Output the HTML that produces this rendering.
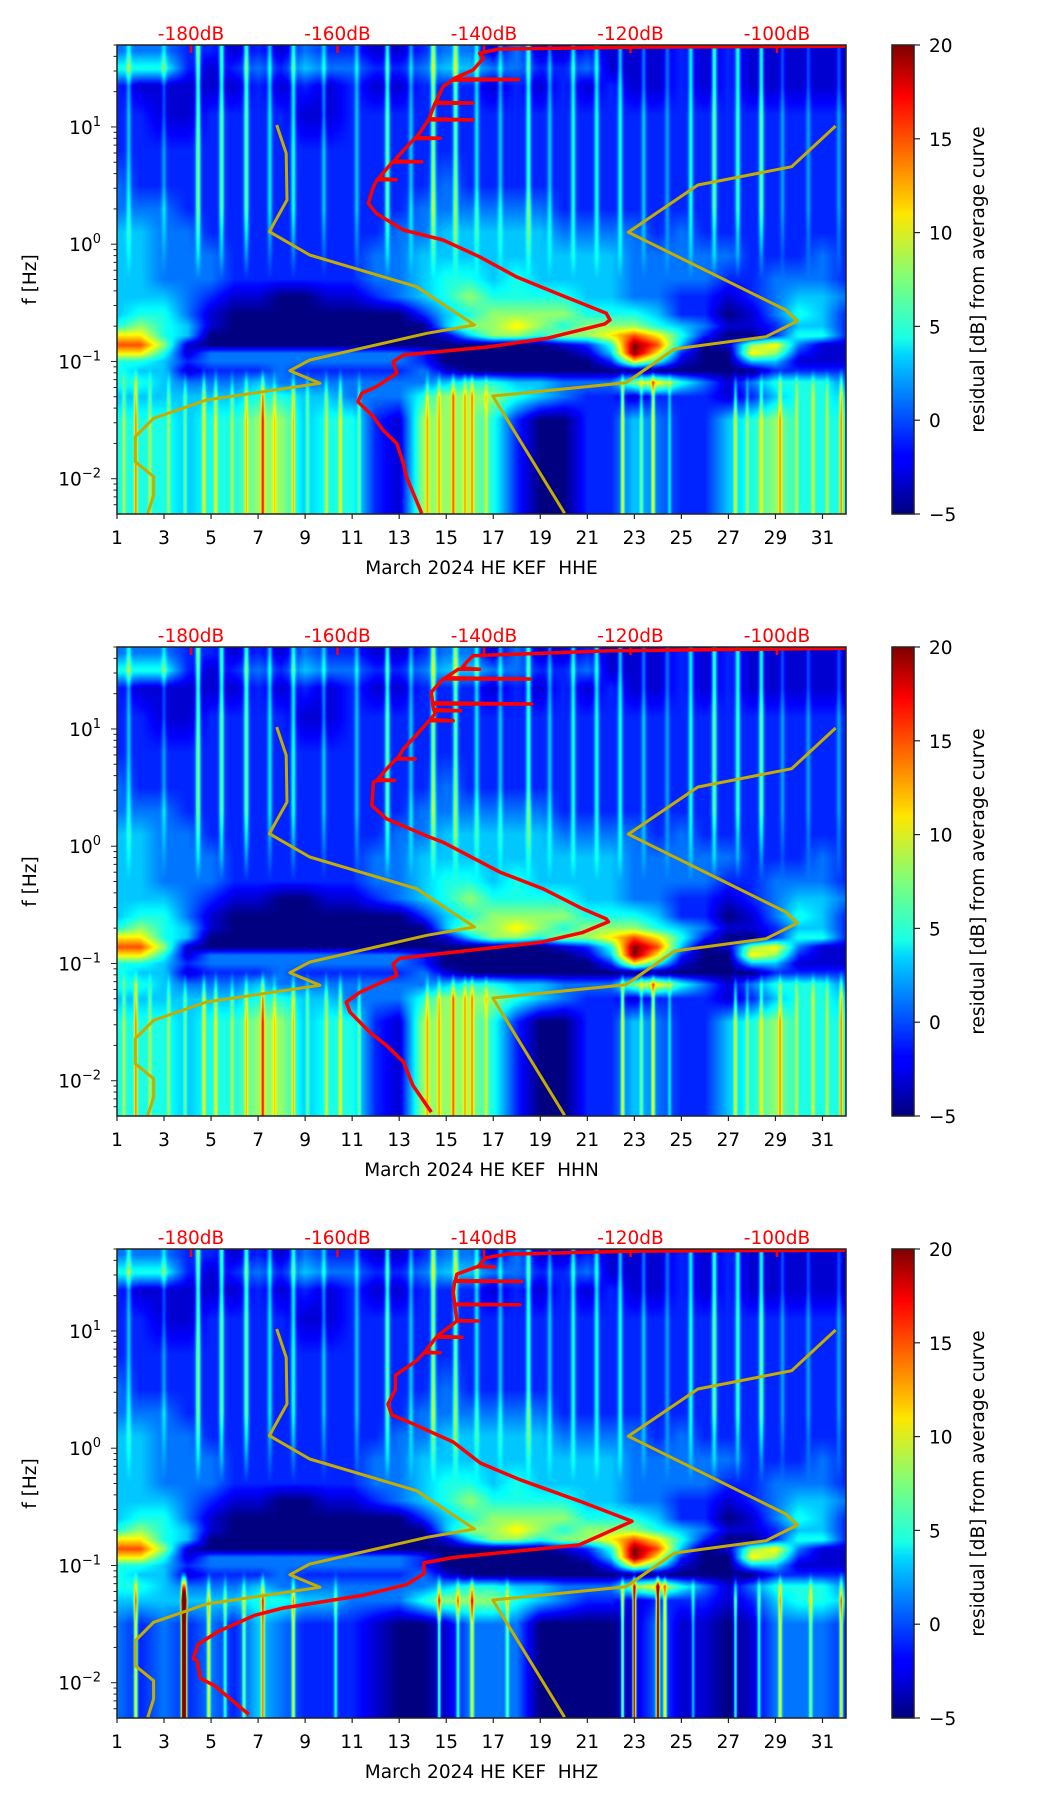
<!DOCTYPE html>
<html><head><meta charset="utf-8">
<style>
html,body{margin:0;padding:0;background:#fff;}
#root{position:relative;width:1052px;height:1806px;overflow:hidden;font-family:"DejaVu Sans","Liberation Sans",sans-serif;}
canvas{position:absolute;}
svg{position:absolute;left:0;top:0;}
</style></head>
<body>
<div id="root">
<canvas id="hm0" width="729" height="469" style="left:117px;top:45px"></canvas>
<canvas id="hm1" width="729" height="469" style="left:117px;top:647px"></canvas>
<canvas id="hm2" width="729" height="469" style="left:117px;top:1249px"></canvas>
<svg id="svg" width="1052" height="1806" xmlns="http://www.w3.org/2000/svg">
<defs>
<linearGradient id="jet" x1="0" y1="1" x2="0" y2="0">
<stop offset="0" stop-color="#00007f"/><stop offset="0.11" stop-color="#0000ff"/><stop offset="0.125" stop-color="#0000ff"/>
<stop offset="0.34" stop-color="#00d4ff"/><stop offset="0.375" stop-color="#19ffe6"/><stop offset="0.5" stop-color="#7dff7a"/>
<stop offset="0.64" stop-color="#ffe600"/><stop offset="0.66" stop-color="#ffd000"/><stop offset="0.89" stop-color="#ff0000"/><stop offset="1" stop-color="#7f0000"/>
</linearGradient>
</defs>
</svg>
</div>
<script>
// ---------- data ----------
const days = [1,2,3,4,5,6,7,8,9,10,11,12,13,14,15,16,17,18,19,20,21,22,23,24,25,26,27,28,29,30,31,32];
const digitValues = [-5,-3,-1,1,3,5,8,11,15,20];
const rowsLogF = [1.65,1.5,1.35,1.1,0.8,0.5,0.3,0.1,-0.1,-0.3,-0.45,-0.6,-0.7,-0.78,-0.86,-0.93,-1.0,-1.08,-1.18,-1.3,-1.5,-1.9,-2.3];
const rowsMid = [
"33322121322112331311211121211111",
"55521232433223443322311121211111",
"21111121212112221212121121211111",
"22112222112222222222222222222222",
"22222222222222222222222222222222",
"32222222222222322222222222222222",
"33322222222223333332222222222222",
"44332222222233444443333232222222",
"44333222222334444444443333322232",
"44333222222334554544443333223332",
"44432110011234565555443322123443",
"45531000000002456666555422013542",
"56541000000000466765666543112442",
"77540000000000146656678752002552",
"88610000000000000001259840167311",
"77513333333332000000149720076211",
"55423333333332000000027510044111",
"54412223222223100000000000002222",
"55433343333333455443336753135553",
"44444455443335666543221222124554"];
const loBase = [
"55545566455216665200224322456555",
"55545566455216665200224322456555",
"32323243222100133300001311013332"];
const hiDays = [1.5,3.0,4.45,5.45,6.5,7.5,8.5,9.8,11.2,12.5,13.5,14.45,15.4,16.3,17.3,18.5,19.4,20.4,21.4,22.4,23.4,24.4,25.4,26.4,27.4,28.4,29.3,30.4,31.7];
const hiVals = [4,3,9,8,8,5,6,4,4,8,4,9,8,5,4,7,4,6,6,6,4,3,6,8,7,8,3,3,3];
const loDays = [1.3,1.8,2.4,3.2,3.9,4.7,5.2,5.9,6.5,7.2,7.7,8.5,9.1,9.9,10.5,11.3,14.2,14.7,15.3,15.8,16.1,16.7,22.5,23.3,23.8,24.5,27.3,27.8,28.4,29.2,29.9,30.6,31.2,31.8];
const loVals = [4,9,4,4,4,7,6,4,6,9,4,7,4,5,6,4,5,5,7,5,6,4,10,5,10,4,7,4,5,6,4,5,4,9];
const loDays3 = [1.8,3.8,3.9,4.9,5.6,6.4,7.2,8.5,10.3,14.7,15.5,16.1,17.6,22.5,23.0,24.0,24.3,25.5,27.3,28.3,29.2,30.5,31.8];
const loVals3 = [12,22,22,10,6,7,12,10,6,10,7,10,6,12,22,22,12,6,10,7,10,7,12];

// red curves (log10 f, dB)
const red1LogF = [-2.295,-1.983,-1.87,-1.70,-1.585,-1.47,-1.343,-1.272,-1.215,-1.101,-1.002,-0.945,-0.874,-0.803,-0.68,-0.646,-0.589,-0.419,-0.277,-0.107,0.036,0.121,0.263,0.349,0.49,0.55,0.55,0.56,0.605,0.70,0.704,0.71,0.80,0.90,0.904,0.91,0.946,1.06,1.06,1.07,1.17,1.20,1.204,1.21,1.343,1.40,1.405,1.41,1.486,1.585,1.628,1.665,1.68,1.69];
const red1Db = [-148.5,-150.6,-151.0,-151.9,-153.8,-155.1,-157.2,-156.7,-154.7,-151.9,-152.4,-151.0,-139.2,-131.5,-123.5,-122.8,-123.3,-130.1,-135.6,-140.6,-145.6,-151.0,-154.7,-155.8,-155.1,-154.6,-152.0,-154.4,-153.8,-152.5,-148.5,-152.3,-151.0,-149.5,-146.0,-149.3,-148.8,-147.6,-141.5,-147.5,-146.9,-146.7,-141.5,-146.6,-145.6,-144.3,-135.3,-144.2,-141.5,-140.1,-140.6,-138,-120,-89];
const red2LogF = [-2.268,-2.04,-1.84,-1.70,-1.586,-1.415,-1.33,-1.244,-1.103,-1.003,-0.955,-0.82,-0.735,-0.645,-0.62,-0.535,-0.364,-0.222,0.034,0.09,0.233,0.346,0.547,0.56,0.56,0.57,0.659,0.744,0.744,0.75,0.829,0.957,1.07,1.07,1.08,1.128,1.156,1.156,1.166,1.213,1.213,1.223,1.313,1.426,1.426,1.436,1.51,1.51,1.52,1.568,1.625,1.667,1.69];
const red2Db = [-147.2,-149.7,-151.0,-153.3,-155.6,-158.3,-158.8,-156.9,-151.9,-152.4,-151.5,-132.4,-126.5,-123.0,-123.3,-126.5,-131.9,-137.8,-145.6,-147.9,-153.3,-155.3,-155.1,-154.6,-152.2,-154.5,-153.3,-152.0,-149.4,-151.8,-151.0,-149.1,-147.5,-144.2,-147.3,-146.7,-146.8,-143.2,-146.9,-147.0,-133.5,-147.0,-147.2,-145.6,-133.7,-145.3,-143.5,-140.6,-143.0,-142.4,-141.5,-122.8,-89];
const red3LogF = [-2.271,-2.025,-1.963,-1.810,-1.794,-1.671,-1.563,-1.425,-1.363,-1.255,-1.163,-1.07,-0.978,-0.932,-0.825,-0.623,-0.453,-0.269,-0.126,0.053,0.222,0.284,0.377,0.50,0.623,0.746,0.814,0.814,0.82,0.931,0.946,0.946,0.955,1.085,1.085,1.09,1.223,1.223,1.23,1.33,1.423,1.423,1.43,1.485,1.546,1.546,1.55,1.623,1.655,1.68,1.69];
const red3Db = [-172.1,-176.8,-178.7,-179.2,-179.7,-179.0,-176.3,-171.3,-167.4,-156.6,-150.6,-148.2,-148.2,-144.2,-127.0,-119.8,-126.9,-135.1,-140.5,-144.2,-150.2,-152.6,-153.1,-152.1,-152.1,-149.2,-148.2,-146.0,-148.1,-146.7,-146.5,-143.0,-146.4,-143.7,-140.8,-143.7,-144.0,-135.1,-144.0,-144.2,-144.0,-134.9,-143.9,-143.7,-141.0,-138.6,-140.8,-139.8,-136.9,-120,-89];
// noise models (log10 f, dB)
const nlnmLogF = [1.017,0.775,0.377,0.107,-0.092,-0.362,-0.689,-0.760,-0.988,-1.079,-1.186,-1.329,-1.485,-1.642,-1.855,-1.983,-2.139,-2.295];
const nlnmDb = [-168.3,-167.0,-166.9,-169.3,-163.8,-149.2,-141.3,-147.8,-163.8,-166.5,-162.4,-177.9,-185.1,-187.6,-187.6,-185.1,-185.1,-185.9];
const nhnmLogF = [1.008,0.661,0.505,0.102,-0.561,-0.655,-0.789,-0.894,-1.181,-1.295,-2.295];
const nhnmDb = [-92.0,-98.0,-110.8,-120.3,-98.8,-97.2,-101.5,-114.0,-120.6,-138.8,-129.0];
const dbTicks = [-180,-160,-140,-120,-100];
const dayTicks = [1,3,5,7,9,11,13,15,17,19,21,23,25,27,29,31];
const cbTicks = [-5,0,5,10,15,20];
const yDecades = [1,0,-1,-2];
const stations = ["HHE","HHN","HHZ"];

// ---------- geometry ----------
const PX = 117, PW = 729, PH = 469;
const tops = [45, 647, 1249];
const DAY0 = 1, DAY1 = 32, LF0 = -2.301, LF1 = 1.699;
const DB0 = -180 - 74/7.325, DB1 = DB0 + PW/7.325;
function xDay(d){ return PX + (d-DAY0)/(DAY1-DAY0)*PW; }
function xDb(v){ return PX + (v-DB0)/(DB1-DB0)*PW; }
function yLog(p, lf){ return tops[p] + (LF1-lf)/(LF1-LF0)*PH; }
function jet(t){
  t = Math.max(0, Math.min(1, t));
  const c = v => Math.max(0, Math.min(1, v));
  return [c(1.5-Math.abs(4*t-3))*255, c(1.5-Math.abs(4*t-2))*255, c(1.5-Math.abs(4*t-1))*255];
}
function digit(s, i){ const ch = s[Math.max(0, Math.min(s.length-1, i))]; const n = parseInt(ch); return digitValues[isNaN(n)?2:n]; }

// ---------- heatmaps ----------
function drawHeat(p){
  const cv = document.getElementById('hm'+p), ctx = cv.getContext('2d');
  const img = ctx.createImageData(PW, PH), d = img.data;
  const rows = rowsMid.concat([loBase[p], loBase[p], loBase[p]]);
  const ld = p===2 ? loDays3 : loDays, lv = p===2 ? loVals3 : loVals;
  const hiS = new Float32Array(PW), loS = new Float32Array(PW);
  for (let x=0; x<PW; x++){
    const day = DAY0 + (x+0.5)/PW*(DAY1-DAY0);
    for (let k=0;k<hiDays.length;k++){ const dx=(day-hiDays[k])/0.07; hiS[x]+=hiVals[k]*Math.exp(-dx*dx/2); }
    for (let k=0;k<ld.length;k++){ const dx=(day-ld[k])/0.05; loS[x]+=lv[k]*Math.exp(-dx*dx/2); }
  }
  for (let y=0; y<PH; y++){
    const lf = LF1 - (y+0.5)/PH*(LF1-LF0);
    let r0 = 0, fr = 0;
    if (lf >= rowsLogF[0]) { r0 = 0; fr = 0; }
    else if (lf <= rowsLogF[rowsLogF.length-1]) { r0 = rowsLogF.length-2; fr = 1; }
    else { for (let r=0;r<rowsLogF.length-1;r++){ if (lf<=rowsLogF[r] && lf>=rowsLogF[r+1]){ r0=r; fr=(rowsLogF[r]-lf)/(rowsLogF[r]-rowsLogF[r+1]); break; } } }
    const wH = lf>0.3 ? 1 : (lf>-0.3 ? (lf+0.3)/0.6 : 0);
    const wL = lf<-1.3 ? 1 : (lf<-1.05 ? (-1.05-lf)/0.25 : 0);
    for (let x=0; x<PW; x++){
      const fi = (x+0.5)/PW*(DAY1-DAY0);
      const i0 = Math.floor(fi), t = fi - i0;
      const a = digit(rows[r0], i0)*(1-t) + digit(rows[r0], i0+1)*t;
      const b = digit(rows[r0+1], i0)*(1-t) + digit(rows[r0+1], i0+1)*t;
      const v = a*(1-fr) + b*fr + wH*hiS[x] + wL*loS[x];
      const c = jet((v+5)/25), o = (y*PW+x)*4;
      d[o]=c[0]; d[o+1]=c[1]; d[o+2]=c[2]; d[o+3]=255;
    }
  }
  ctx.putImageData(img, 0, 0);
}
[0,1,2].forEach(drawHeat);

// ---------- svg ----------
const NS = "http://www.w3.org/2000/svg";
const svg = document.getElementById('svg');
function mk(tag, attrs, parent){ const e = document.createElementNS(NS, tag); for (const k in attrs) e.setAttribute(k, attrs[k]); (parent||svg).appendChild(e); return e; }
function poly(p, lfs, dbs){ return lfs.map((lf,i)=>xDb(dbs[i]).toFixed(1)+','+yLog(p,lf).toFixed(1)).join(' '); }

for (let p=0; p<3; p++){
  const T = tops[p], B = T+PH;
  const g = mk('g', {});
  
  
  const cp = mk('clipPath', {id:'clip'+p}, g);
  mk('rect', {x:PX, y:T, width:PW, height:PH}, cp);
  const curves = mk('g', {'clip-path':'url(#clip'+p+')'}, g);
  const nl = mk('polyline', {points:poly(p,nlnmLogF,nlnmDb), fill:'none', stroke:'#c4ad00', 'stroke-width':3, 'stroke-linejoin':'round'}, curves);
  
  
  const nh = mk('polyline', {points:poly(p,nhnmLogF,nhnmDb), fill:'none', stroke:'#c4ad00', 'stroke-width':3, 'stroke-linejoin':'round'}, curves);
  
  
  const rl = [red1LogF, red2LogF, red3LogF][p], rd = [red1Db, red2Db, red3Db][p];
  const rc = mk('polyline', {points:poly(p,rl,rd), fill:'none', stroke:'#ff0000', 'stroke-width':3.5, 'stroke-linejoin':'round'}, curves);
  
  
  dbTicks.forEach(v=>{
    const x = xDb(v);
    mk('line', {x1:x, y1:T, x2:x, y2:T+8, stroke:'#ff0000', 'stroke-width':2.5}, g);
    const t = mk('text', {x:x, y:T-5, 'text-anchor':'middle', fill:'#ff0000', 'font-size':18.5}, g);
    t.textContent = v+'dB';
    
    
  });
  mk('rect', {x:PX, y:T, width:PW, height:PH, fill:'none', stroke:'#222', 'stroke-width':1.5}, g);
  dayTicks.forEach(dv=>{
    const x = xDay(dv);
    mk('line', {x1:x, y1:B, x2:x, y2:B+5, stroke:'#222', 'stroke-width':1.2}, g);
    const t = mk('text', {x:x, y:B+30, 'text-anchor':'middle', fill:'#000', 'font-size':18.5}, g);
    t.textContent = dv;
    
    
  });
  const xl = mk('text', {x:PX+PW/2, y:B+60, 'text-anchor':'middle', fill:'#000', 'font-size':18.5, 'xml:space':'preserve'}, g);
  xl.textContent = 'March 2024 HE KEF  ' + stations[p];
  
  
  xl.style.whiteSpace = 'pre';
  for (let dec=-3; dec<=1; dec++){
    for (let k=1; k<10; k++){
      const lf = dec + Math.log10(k);
      if (lf < LF0 || lf > LF1) continue;
      const y = yLog(p, lf);
      mk('line', {x1:PX, y1:y, x2:PX-(k===1?6:3.5), y2:y, stroke:'#222', 'stroke-width':1}, g);
    }
  }
  yDecades.forEach(dec=>{
    const y = yLog(p, dec);
    const t = mk('text', {x:101, y:y+7, 'text-anchor':'end', fill:'#000', 'font-size':18.5}, g);
    
    
    const s1 = mk('tspan', {}, t); s1.textContent = '10';
    const s2 = mk('tspan', {dy:-8, 'font-size':13}, t); s2.textContent = dec<0 ? '\u2212'+(-dec) : String(dec);
  });
  const yl = mk('text', {x:0, y:0, 'text-anchor':'middle', fill:'#000', 'font-size':18.5, transform:'translate(36,'+(T+PH/2)+') rotate(-90)'}, g);
  yl.textContent = 'f [Hz]';
  
  
  const cb = mk('rect', {x:892, y:T, width:22, height:PH, fill:'url(#jet)', stroke:'#222', 'stroke-width':1.5}, g);
  
  
  cbTicks.forEach(v=>{
    const y = T + (20-v)/25*PH;
    mk('line', {x1:914, y1:y, x2:920, y2:y, stroke:'#222', 'stroke-width':1.2}, g);
    const t = mk('text', {x:929, y:y+7, fill:'#000', 'font-size':18.5}, g);
    t.textContent = v<0 ? '\u2212'+(-v) : String(v);
    
    
  });
  const cl = mk('text', {x:0, y:0, 'text-anchor':'middle', fill:'#000', 'font-size':18.5, transform:'translate(984,'+(T+PH/2)+') rotate(-90)'}, g);
  cl.textContent = 'residual [dB] from average curve';
  
  
}
</script>
</body></html>
